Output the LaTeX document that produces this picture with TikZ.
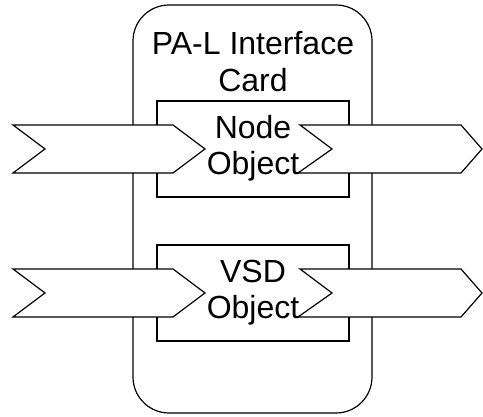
\documentclass[tikz,border=0pt]{standalone}
\usepackage{fontspec}
\setmainfont{Liberation Sans}
\begin{document}
\begin{tikzpicture}[x=1pt,y=-1pt,
  line/.style={draw=black,line width=1.2pt,line join=miter},
  chev/.style={line,fill=white},
  lbl/.style={font=\fontsize{32}{36}\selectfont,align=center,inner sep=0pt}]
\useasboundingbox (0,0) rectangle (483,417);
% card
\draw[line,rounded corners=36pt] (133,5) rectangle (372,413);
% object boxes
\draw[line] (157,101) rectangle (349,197);
\draw[line] (157,245) rectangle (349,341);
% chevrons top
\draw[chev] (13,125) -- (173,125) -- (205,149) -- (173,173) -- (13,173) -- (45,149) -- cycle;
\draw[chev] (300,125) -- (461,125) -- (482,149) -- (461,173) -- (298,173) -- (332,149) -- cycle;
% chevrons bottom
\draw[chev] (13,269) -- (173,269) -- (205,293) -- (173,317) -- (13,317) -- (45,293) -- cycle;
\draw[chev] (300,269) -- (461,269) -- (482,293) -- (461,317) -- (298,317) -- (332,293) -- cycle;
% labels
\node[lbl,anchor=base] (t1) at (253,55) {PA-L Interface};
\node[lbl,anchor=base] (t2) at (253,92) {Card};
\node[lbl,anchor=base] (n1) at (253,139) {Node};
\node[lbl,anchor=base] (n2) at (253,175) {Object};
\node[lbl,anchor=base] (v1) at (253,283) {VSD};
\node[lbl,anchor=base] (v2) at (253,319) {Object};
\end{tikzpicture}
\end{document}
